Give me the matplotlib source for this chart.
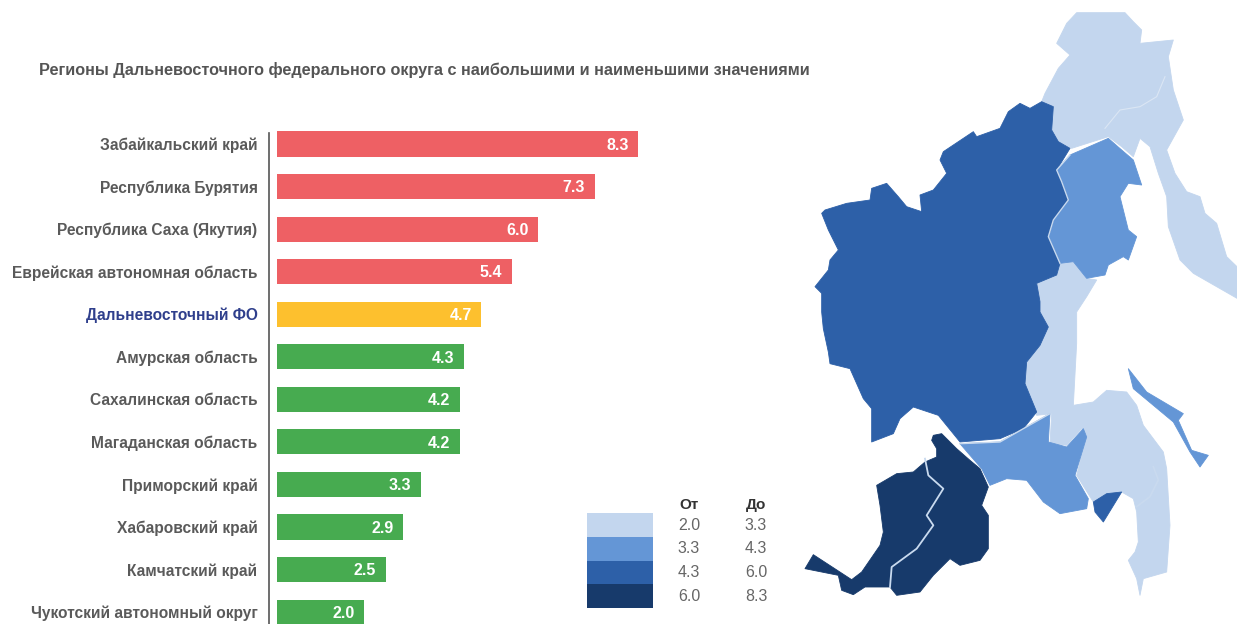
import matplotlib
matplotlib.use('Agg')
import matplotlib.pyplot as plt
from matplotlib.patches import Polygon

plt.rcParams['font.family'] = ['Liberation Sans', 'DejaVu Sans']

W, H = 1237, 624

title = 'Регионы Дальневосточного федерального округа с наибольшими и наименьшими значениями'
regions = ['Забайкальский край', 'Республика Бурятия', 'Республика Саха (Якутия)',
           'Еврейская автономная область', 'Дальневосточный ФО', 'Амурская область',
           'Сахалинская область', 'Магаданская область', 'Приморский край',
           'Хабаровский край', 'Камчатский край', 'Чукотский автономный округ']
values = [8.3, 7.3, 6.0, 5.4, 4.7, 4.3, 4.2, 4.2, 3.3, 2.9, 2.5, 2.0]

RED, YELLOW, GREEN = '#ee6064', '#fdc02e', '#47ab50'
bar_colors = [RED] * 4 + [YELLOW] + [GREEN] * 7

legend_from = ['2.0', '3.3', '4.3', '6.0']
legend_to = ['3.3', '4.3', '6.0', '8.3']
C1, C2, C3, C4 = '#c3d6ee', '#6496d6', '#2d60a8', '#173a6b'
legend_colors = [C1, C2, C3, C4]

# map outlines (3x units, origin at pixel 800,0)
yakutia = [(725, 305), (760, 320), (755, 390), (775, 425), (810, 445), (770, 510), (785, 545), (805, 600),
           (760, 660), (745, 710), (780, 790), (770, 825), (710, 850), (720, 905), (720, 936), (745, 981),
           (720, 1036), (680, 1086), (675, 1151), (710, 1236), (670, 1286), (600, 1316), (480, 1326),
           (415, 1246), (385, 1236), (340, 1221), (300, 1256), (280, 1301), (215, 1326), (215, 1226),
           (190, 1196), (150, 1106), (90, 1091), (85, 1056), (70, 986), (65, 936), (65, 880), (45, 860),
           (85, 810), (90, 780), (115, 750), (85, 690), (65, 640), (75, 630), (140, 610), (210, 600),
           (215, 565), (260, 550), (295, 590), (320, 620), (365, 635), (360, 585), (400, 570), (440, 520),
           (420, 480), (430, 455), (520, 395), (530, 410), (600, 385), (625, 335), (660, 310), (690, 325)]
chukotka_kamchatka = [(830, 38), (975, 38), (1000, 65), (1025, 90), (1020, 130), (1120, 120), (1105, 170),
                      (1120, 270), (1150, 360), (1100, 450), (1125, 520), (1160, 575), (1200, 590), (1215, 640),
                      (1250, 670), (1280, 770), (1311, 800), (1311, 895), (1180, 820), (1140, 780), (1105, 680),
                      (1100, 590), (1075, 520), (1050, 440), (1020, 415), (1000, 470), (965, 440), (925, 410),
                      (815, 445), (775, 425), (750, 390), (760, 320), (725, 305), (735, 280), (775, 205),
                      (810, 165), (770, 130), (800, 70)]
khabarovsk = [(780, 790), (820, 785), (860, 835), (890, 840), (860, 890), (830, 936), (830, 1030), (820, 1216),
              (880, 1206), (920, 1171), (980, 1176), (1010, 1216), (1030, 1276), (1090, 1356), (1100, 1406),
              (1110, 1576), (1100, 1716), (1030, 1736), (1020, 1786), (1010, 1736), (985, 1681), (1005, 1656),
              (1015, 1626), (1010, 1536), (1000, 1496), (965, 1476), (880, 1506), (830, 1426), (860, 1306),
              (845, 1286), (800, 1336), (750, 1331), (755, 1241), (710, 1246), (675, 1151), (680, 1086),
              (720, 1036), (745, 981), (720, 936), (710, 850), (770, 825)]
magadan = [(925, 415), (965, 450), (1000, 480), (1025, 555), (985, 550), (960, 590), (985, 690), (1010, 710),
           (985, 780), (970, 770), (925, 795), (915, 825), (860, 835), (820, 785), (780, 790), (745, 710),
           (760, 660), (805, 600), (785, 545), (770, 510), (810, 465)]
amur = [(480, 1331), (600, 1326), (670, 1286), (750, 1241), (745, 1326), (800, 1341), (850, 1286), (860, 1311),
        (825, 1426), (865, 1496), (860, 1526), (780, 1541), (730, 1506), (680, 1441), (620, 1436), (570, 1456),
        (545, 1406), (510, 1366)]
jewish_ao = [(880, 1506), (920, 1481), (965, 1476), (910, 1566), (885, 1536)]
sakhalin = [(985, 1106), (1040, 1176), (1150, 1241), (1135, 1261), (1175, 1351), (1225, 1366), (1200, 1401),
            (1170, 1356), (1120, 1266), (1000, 1166)]
transbaikal = [(400, 1306), (425, 1301), (470, 1346), (510, 1381), (540, 1406), (565, 1461), (545, 1516),
               (565, 1546), (565, 1646), (540, 1681), (480, 1696), (450, 1676), (400, 1726), (360, 1776),
               (290, 1786), (270, 1761), (195, 1761), (160, 1784), (125, 1771), (115, 1726), (15, 1706),
               (40, 1664), (155, 1739), (185, 1716), (240, 1636), (250, 1596), (240, 1516), (230, 1456),
               (290, 1421), (340, 1416), (375, 1386), (410, 1371), (410, 1346), (395, 1321)]
map_regions = [(chukotka_kamchatka, C1), (khabarovsk, C1), (magadan, C2), (amur, C2), (sakhalin, C2),
               (yakutia, C3), (jewish_ao, C3), (transbaikal, C4)]
border_buryatia = [(375, 1376), (385, 1426), (430, 1466), (380, 1546), (400, 1576), (350, 1646), (275, 1701), (270, 1761)]
border_chukotka = [(915, 385), (960, 330), (1020, 320), (1070, 290), (1095, 230)]
border_sakhalin_ao = [(1060, 1400), (1075, 1440), (1050, 1490), (1010, 1520)]
border_east = [(780, 790), (745, 710), (760, 660), (805, 600), (785, 545), (770, 510), (810, 465)]
border_south = [(480, 1331), (600, 1326), (670, 1286), (750, 1241)]

fig = plt.figure(figsize=(W / 100, H / 100), dpi=100)

# bars
ax = fig.add_axes([277 / W, 0, 523 / W, 1 - 122 / H])
y = list(range(len(regions)))
ax.barh(y, values, height=0.59, color=bar_colors)
ax.set_xlim(0, 523 / 43.5)
ax.set_ylim(11.28, -0.517)
for s in ['top', 'right', 'bottom']:
    ax.spines[s].set_visible(False)
# moving the spine resets the ticks, so it has to come before the label styling
ax.spines['left'].set_position(('outward', 6))
ax.spines['left'].set_color('#555555')
ax.spines['left'].set_linewidth(1.2)
ax.spines['left'].set_bounds(-0.27, 11.28)
ax.set_xticks([])
ax.set_yticks(y)
ax.set_yticklabels(regions, fontsize=11.2, fontweight='bold', color='#5a5a5a')
ax.tick_params(axis='y', length=0, pad=8)
ax.get_yticklabels()[4].set_color('#2f3f8c')
ax.patch.set_alpha(0)
for i, v in enumerate(values):
    ax.text(v - 0.22, i + 0.03, f'{v:.1f}', ha='right', va='center', color='white',
            fontsize=11.5, fontweight='bold')

# map
m = fig.add_axes([800 / W, 0, 437 / W, 1])
m.set_xlim(0, 1311)
m.set_ylim(1872, 0)
m.axis('off')
for outline, col in map_regions:
    m.add_patch(Polygon(outline, closed=True, facecolor=col, edgecolor=col, linewidth=0.6, joinstyle='round'))
for line, lw in [(border_buryatia, 1.3), (border_chukotka, 0.8), (border_sakhalin_ao, 1.2),
                 (border_east, 1.0), (border_south, 1.0)]:
    m.plot(*zip(*line), color='#c9daef' if lw != 0.8 else '#dbe6f4', linewidth=lw)

# title and legend, in pixels
o = fig.add_axes([0, 0, 1, 1])
o.set_xlim(0, W)
o.set_ylim(H, 0)
o.axis('off')
o.text(39, 70, title, fontsize=11.7, fontweight='bold', color='#555555', va='center', ha='left')
for i, col in enumerate(legend_colors):
    o.barh(525 + i * 23.7, 66, left=587, height=23.7, color=col)
    o.text(689, 525 + i * 23.7, legend_from[i], ha='center', va='center', fontsize=11.5, color='#666666')
    o.text(756, 525 + i * 23.7, legend_to[i], ha='center', va='center', fontsize=11.5, color='#666666')
o.text(689, 505, 'От', ha='center', va='center', fontsize=11, fontweight='bold', color='#333333')
o.text(756, 505, 'До', ha='center', va='center', fontsize=11, fontweight='bold', color='#333333')

fig.savefig('out.png', dpi=100)
